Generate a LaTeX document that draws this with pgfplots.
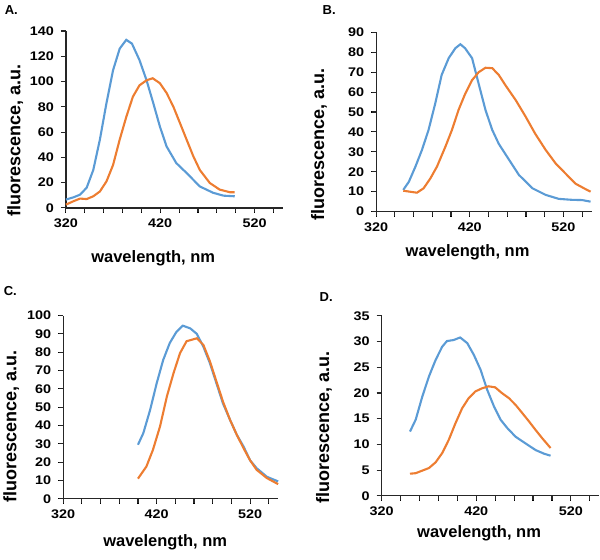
\documentclass[border=0pt]{standalone}
\usepackage{fontspec}
\setmainfont{Liberation Sans}
\newfontfamily\widefont[FakeStretch=1.15]{Liberation Sans}
\usepackage{pgfplots}
\pgfplotsset{compat=1.18}

\definecolor{exblue}{RGB}{91,155,213}
\definecolor{exorange}{RGB}{237,125,49}

\pgfplotsset{
  spec/.style={
    scale only axis,
    anchor=south west,
    clip=false,
    axis x line*=bottom,
    axis y line*=left,
    axis line style={-, black!85, line width=1.2pt},
    xmin=320, xmax=550,
    xtick={320,340,...,540},
    xticklabels={320,,,,,420,,,,,520,},
    tick align=outside,
    major tick length=5pt,
    major tick style={draw=black, line width=1.1pt},
    /pgf/number format/assume math mode=true,
    ticklabel style={font=\widefont\fontsize{12.5}{12.5}\selectfont\bfseries},
    xticklabel style={yshift=-2.5pt},
    yticklabel style={xshift=-3.5pt},
    every axis plot/.append style={line width=2.1pt, no markers},
  },
  tk/.style={black!85, line width=1.1pt, -},
}

\newcommand\xlab{\fontsize{16.5}{16.5}\selectfont\bfseries}
\newcommand\ylab{\fontsize{18}{18}\selectfont\bfseries}
\newcommand\pan{\fontsize{13}{13}\selectfont\bfseries}

\begin{document}
\begin{tikzpicture}
\path (0pt,0pt) rectangle (600pt,-560pt);

% A
\begin{axis}[spec, at={(65.7pt,-208pt)}, width=217pt, height=177pt,
  ymin=0, ymax=140, ytick={0,20,...,140}]
\addplot[tk, quiver={u=0,v=-3.56}] coordinates {
(320,0) (340,0) (360,0) (380,0) (400,0) (420,0) (440,0) (460,0) (480,0) (500,0) (520,0) (540,0)};
\addplot[tk, quiver={u=-4.77,v=0}] coordinates {
(320,0) (320,20) (320,40) (320,60) (320,80) (320,100) (320,120) (320,140)};
\addplot[exblue] coordinates {
(320,6.6) (328,8.4) (335,10.5) (342,16) (349,30) (356,54) (363,83) (370,109)
(377,126) (384,133) (390,130) (398,117) (405.5,101) (412.6,83) (419.6,64.5)
(426.7,48.7) (437,35.5) (448,27.6) (462,17) (476,12) (487,9.7) (499,9.2)};
\addplot[exorange] coordinates {
(320,2.6) (328,5.3) (335,7.4) (342,7) (349,9.2) (356,13) (363,21) (370,34)
(377,54) (384,72) (391,88) (398,97) (405.5,101) (412,102.6) (419.6,98.7)
(426.7,91) (434,80) (441,67) (448,54) (455,41) (462,30) (472.6,19.7)
(483,14.5) (494,12.4) (499,12.4)};
\end{axis}

% B
\begin{axis}[spec, at={(376pt,-211.7pt)}, width=215.5pt, height=179.4pt,
  ymin=0, ymax=90, ytick={0,10,...,90}]
\addplot[tk, quiver={u=0,v=-2.26}] coordinates {
(320,0) (340,0) (360,0) (380,0) (400,0) (420,0) (440,0) (460,0) (480,0) (500,0) (520,0) (540,0)};
\addplot[tk, quiver={u=-4.8,v=0}] coordinates {
(320,0) (320,10) (320,20) (320,30) (320,40) (320,50) (320,60) (320,70) (320,80) (320,90)};
\addplot[exblue] coordinates {
(349,10.9) (355,15) (362,22.6) (369,31) (376,41) (383,54) (390,68.6)
(397.5,77) (404.6,82) (410,84) (415,82) (422.5,77) (429.6,64) (436.8,51)
(444,41) (451,34) (462,26) (472.5,18.4) (487,11.7) (501,8.4) (515,6.4)
(529.6,5.9) (540,5.8) (549,5)};
\addplot[exorange] coordinates {
(349,10.5) (356,10) (363.6,9.5) (370.7,11.7) (378,16.7) (385,22.6) (394,32.6)
(401,41) (408,51) (415,59) (422.5,66) (429.6,70) (436.8,72.2) (444,72)
(451,68.6) (458,63.5) (469,56) (479.6,47.7) (490,39) (501,31) (512,24)
(522.5,19) (533,14) (542,11.7) (549,10)};
\end{axis}

% C
\begin{axis}[spec, at={(63pt,-499pt)}, width=215pt, height=183.3pt,
  ymin=0, ymax=100, ytick={0,10,...,100}]
\addplot[tk, quiver={u=0,v=-2.46}] coordinates {
(320,0) (340,0) (360,0) (380,0) (400,0) (420,0) (440,0) (460,0) (480,0) (500,0) (520,0) (540,0)};
\addplot[tk, quiver={u=-4.81,v=0}] coordinates {
(320,0) (320,10) (320,20) (320,30) (320,40) (320,50) (320,60) (320,70) (320,80) (320,90) (320,100)};
\addplot[exblue] coordinates {
(400,29.5) (405.7,35.8) (413,48.5) (420,63) (427,75.8) (434,85) (441,91)
(448,94.5) (456,93) (463,90) (470,83) (477,74) (484,63) (491,52)
(498.6,43) (505.7,35) (513,28.5) (520,21) (527,16.7) (538,12) (550,9.5)};
\addplot[exorange] coordinates {
(400,11) (409,17.6) (416,26.7) (423.6,39.5) (431,56) (438,68.5) (445,79.5)
(452,86) (463,87.6) (470,84) (477,75) (484,64) (491,53) (498.6,43)
(505.7,35) (513,27.6) (520,21) (527,15.8) (538,11.3) (550,8)};
\end{axis}

% D
\begin{axis}[spec, at={(381.5pt,-496pt)}, width=217.8pt, height=180pt,
  ymin=0, ymax=35, ytick={0,5,...,35}]
\addplot[tk, quiver={u=0,v=-0.875}] coordinates {
(320,0) (340,0) (360,0) (380,0) (400,0) (420,0) (440,0) (460,0) (480,0) (500,0) (520,0) (540,0)};
\addplot[tk, quiver={u=-4.75,v=0}] coordinates {
(320,0) (320,5) (320,10) (320,15) (320,20) (320,25) (320,30) (320,35)};
\addplot[exblue] coordinates {
(350,12.5) (356,14.8) (363,19.3) (370,23.2) (377,26.4) (384,29) (389,30.1)
(396,30.3) (403,30.8) (410.5,29.7) (417.5,27.4) (424.6,24.5) (431.6,20.6)
(438.7,17.4) (445.7,14.8) (452.7,13.2) (461.5,11.5) (472,10.2) (482.7,8.9)
(491.5,8.2) (498.5,7.8)};
\addplot[exorange] coordinates {
(350,4.3) (356,4.4) (363,4.9) (370,5.4) (377,6.5) (384,8.3) (391,10.9)
(398,14.1) (405,17) (412,19) (419,20.3) (426,20.9) (433,21.3) (440,21.1)
(447,20) (454.5,19) (461.5,17.7) (468.6,16.1) (475.6,14.5) (482.7,12.8)
(489.7,11.2) (498.5,9.3)};
\end{axis}

% panel letters and axis titles
\node[font=\pan, anchor=west] at (1pt,-10.5pt) {A.};
\node[font=\pan, anchor=west] at (319pt,-10.5pt) {B.};
\node[font=\pan, anchor=west] at (0pt,-291pt) {C.};
\node[font=\pan, anchor=west] at (316pt,-297pt) {D.};

\node[font=\xlab, anchor=base] at (153pt,-263pt) {wavelength, nm};
\node[font=\xlab, anchor=base] at (467.5pt,-257pt) {wavelength, nm};
\node[font=\xlab, anchor=base] at (165pt,-547pt) {wavelength, nm};
\node[font=\xlab, anchor=base] at (479pt,-538pt) {wavelength, nm};

\node[font=\ylab, rotate=90] at (15pt,-141pt) {fluorescence, a.u.};
\node[font=\ylab, rotate=90] at (319pt,-144.5pt) {fluorescence, a.u.};
\node[font=\ylab, rotate=90] at (11pt,-427pt) {fluorescence, a.u.};
\node[font=\ylab, rotate=90] at (324pt,-427.5pt) {fluorescence, a.u.};
\end{tikzpicture}
\end{document}
